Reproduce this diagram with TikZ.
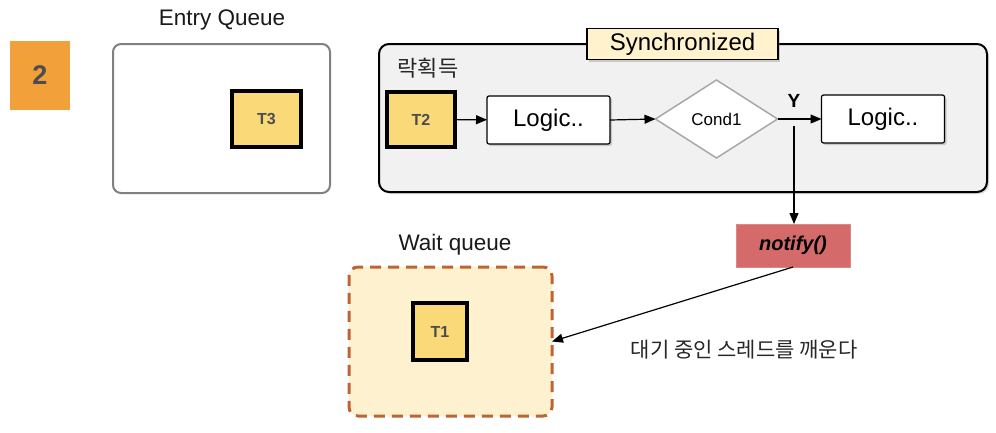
\documentclass[tikz,border=0pt]{standalone}
\usepackage{fontspec}
\setmainfont{Liberation Sans}
\newfontfamily\krfont{Noto Sans CJK KR}
\usetikzlibrary{arrows.meta,shapes.geometric,shadows}
\definecolor{badgeorange}{HTML}{F2A03A}
\definecolor{tyellow}{HTML}{F9D978}
\definecolor{syncbg}{HTML}{F1F1F1}
\definecolor{labelbg}{HTML}{FFF2CC}
\definecolor{notifyred}{HTML}{D46A6A}
\definecolor{waitbg}{HTML}{FDF1CF}
\definecolor{waitline}{HTML}{BF6431}
\definecolor{tgray}{HTML}{4D4D4D}
\definecolor{entrygray}{HTML}{808080}
\definecolor{diagray}{HTML}{A8A8A8}
\begin{document}
\begin{tikzpicture}[x=1pt,y=-1pt,
  every node/.style={inner sep=0pt, outer sep=0pt},
  thread/.style={draw=black, line width=3.2pt, fill=tyellow, text=tgray,
    font=\fontsize{16}{18}\selectfont\bfseries},
  logicbox/.style={draw=black, line width=1.2pt, fill=white, rounded corners=2pt,
    minimum width=123pt, minimum height=48pt, font=\fontsize{24}{28}\selectfont,
    drop shadow={shadow xshift=2pt, shadow yshift=-2pt, opacity=0.35}},
  arr/.style={-{Triangle[length=11pt,width=9pt]}, line width=1.2pt},
  lbl/.style={font=\fontsize{22.5}{26}\selectfont, text=black!90}
]
\useasboundingbox (0,0) rectangle (996,432);

% badge
\node[fill=badgeorange, minimum width=60pt, minimum height=69pt, text=tgray,
  font=\fontsize{27}{30}\selectfont\bfseries] (badge) at (40,75.5) {2};

% entry queue
\node[lbl] (entrylbl) at (222,20) {Entry Queue};
\node[draw=entrygray, line width=2pt, rounded corners=8pt, fill=white,
  minimum width=217pt, minimum height=149pt] (entry) at (221.5,118.5) {};
\node[thread, minimum width=69pt, minimum height=56pt] (t3) at (266.5,119) {T3};

% synchronized block
\node[draw=black, line width=2pt, rounded corners=10pt, fill=syncbg,
  minimum width=608pt, minimum height=148pt,
  drop shadow={shadow xshift=2pt, shadow yshift=-2pt, opacity=0.3}] (sync) at (683,118) {};
\node[draw=black, line width=1.2pt, fill=labelbg, minimum width=191pt, minimum height=31pt,
  font=\fontsize{24}{28}\selectfont,
  drop shadow={shadow xshift=2pt, shadow yshift=-2pt, opacity=0.35}] (synclbl) at (682.5,44) {Synchronized};
\node[font=\krfont\fontsize{22}{26}\selectfont, text=black!85] (lock) at (428,68) {락획득};

\node[thread, minimum width=68pt, minimum height=55pt] (t2) at (421,119.5) {T2};
\node[logicbox] (logic1) at (548.5,120) {Logic..};
\node[diamond, draw=diagray, line width=1.5pt, fill=white, minimum width=122pt,
  minimum height=78pt, font=\fontsize{17}{20}\selectfont] (cond) at (716.5,119) {Cond1};
\node[logicbox] (logic2) at (883,119) {Logic..};
\node[font=\fontsize{19}{22}\selectfont\bfseries] (ylbl) at (794,101) {Y};

\draw[arr] (t2) -- (logic1);
\draw[arr] (logic1.east) -- (cond.west);
\draw[arr] (cond.east) -- (logic2.west |- cond.east);

% notify
\node[fill=notifyred, draw=notifyred!80!white, minimum width=114pt, minimum height=43pt,
  font=\fontsize{20}{24}\selectfont\bfseries\itshape] (notify) at (793,245.5) {notify()};
\coordinate (tap) at (794,126);
\draw[arr] (tap) -- (tap |- notify.north);

% wait queue
\node[lbl] (waitlbl) at (455,245) {Wait queue};
\node[draw=waitline, fill=waitbg, line width=3pt, dash pattern=on 11pt off 7pt,
  rounded corners=9pt, minimum width=203pt, minimum height=149pt] (wait) at (450.5,341.5) {};
\node[thread, minimum width=54pt, minimum height=57pt] (t1) at (440,331.5) {T1};

\draw[arr] (notify.south) -- (wait.east);
\node[font=\krfont\fontsize{21}{24}\selectfont, text=black!85] (wake) at (744,350) {대기 중인 스레드를 깨운다};
\end{tikzpicture}
\end{document}
